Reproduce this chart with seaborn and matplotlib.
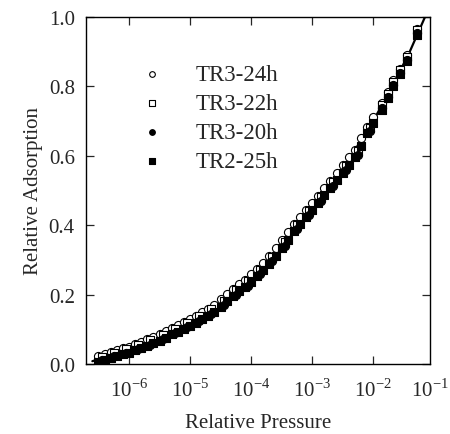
import numpy as np
import pandas as pd
import matplotlib
matplotlib.use("Agg")
import matplotlib.pyplot as plt
import matplotlib.ticker as mticker
import seaborn as sns

# log10 of relative pressure (dense series)
logp_dense = [-6.5, -6.4, -6.3, -6.2, -6.1, -6.0, -5.9, -5.8, -5.7, -5.6,
              -5.5, -5.4, -5.3, -5.2, -5.1, -5.0, -4.9, -4.8, -4.7, -4.6,
              -4.5, -4.4, -4.3, -4.2, -4.1, -4.0, -3.9, -3.8, -3.7, -3.6,
              -3.5, -3.4, -3.3, -3.2, -3.1, -3.0, -2.9, -2.8, -2.7, -2.6,
              -2.5, -2.4, -2.3, -2.2, -2.1, -2.0, -1.85, -1.75, -1.67, -1.56,
              -1.44, -1.28]
# log10 of relative pressure (sparser series)
logp_sparse = [-6.45, -6.25, -6.05, -5.85, -5.65, -5.45, -5.25, -5.05, -4.85, -4.65,
               -4.45, -4.25, -4.05, -3.85, -3.65, -3.45, -3.25, -3.05, -2.85, -2.65,
               -2.45, -2.25, -2.05, -1.85, -1.75, -1.67, -1.56, -1.44, -1.28]

ads_tr3_24h = [0.022, 0.028, 0.034, 0.040, 0.045, 0.050, 0.058, 0.064, 0.071, 0.078,
               0.086, 0.095, 0.104, 0.112, 0.121, 0.130, 0.139, 0.149, 0.159, 0.171,
               0.186, 0.202, 0.217, 0.230, 0.243, 0.258, 0.275, 0.292, 0.311, 0.333,
               0.356, 0.379, 0.403, 0.423, 0.443, 0.464, 0.485, 0.507, 0.528, 0.550,
               0.572, 0.595, 0.617, 0.650, 0.684, 0.712, 0.751, 0.783, 0.817, 0.851,
               0.889, 0.966]
ads_tr3_22h = [0.021, 0.032, 0.044, 0.055, 0.068, 0.084, 0.102, 0.119, 0.137, 0.157,
               0.182, 0.212, 0.239, 0.271, 0.308, 0.352, 0.399, 0.440, 0.481, 0.525,
               0.569, 0.613, 0.681, 0.747, 0.779, 0.813, 0.847, 0.885, 0.962]
ads_tr3_20h = [0.012, 0.022, 0.033, 0.044, 0.056, 0.072, 0.090, 0.107, 0.125, 0.145,
               0.170, 0.200, 0.226, 0.259, 0.297, 0.341, 0.389, 0.429, 0.470, 0.514,
               0.558, 0.603, 0.670, 0.737, 0.769, 0.803, 0.837, 0.875, 0.952]
ads_tr2_25h = [0.006, 0.012, 0.018, 0.023, 0.028, 0.033, 0.041, 0.047, 0.053, 0.059,
               0.066, 0.075, 0.085, 0.093, 0.102, 0.110, 0.119, 0.129, 0.139, 0.150,
               0.165, 0.181, 0.196, 0.209, 0.221, 0.237, 0.254, 0.271, 0.289, 0.311,
               0.334, 0.357, 0.382, 0.402, 0.422, 0.443, 0.464, 0.486, 0.507, 0.529,
               0.551, 0.574, 0.596, 0.629, 0.664, 0.693, 0.733, 0.765, 0.800, 0.834,
               0.872, 0.947]

# fitted curve
logp_fit = [-6.6, -6.3, -6.0, -5.5, -5.0, -4.5, -4.0, -3.5, -3.0, -2.5, -2.0, -1.7, -1.4, -1.15]
ads_fit = [0.008, 0.024, 0.040, 0.075, 0.118, 0.172, 0.245, 0.342, 0.452, 0.560, 0.700, 0.795, 0.900, 1.0]

xtick_exp = [-6, -5, -4, -3, -2, -1]

series = [
    ("TR3-24h", logp_dense, ads_tr3_24h, "o", "white"),
    ("TR3-22h", logp_sparse, ads_tr3_22h, "s", "white"),
    ("TR3-20h", logp_sparse, ads_tr3_20h, "o", "black"),
    ("TR2-25h", logp_dense, ads_tr2_25h, "s", "black"),
]

sns.set_style("ticks")
plt.rcParams["font.family"] = ["Liberation Serif", "DejaVu Serif"]
plt.rcParams["mathtext.fontset"] = "custom"
plt.rcParams["mathtext.rm"] = "Liberation Serif"

fig = plt.figure(figsize=(4.5, 4.35), dpi=100)
ax = fig.add_axes([0.191, 0.161, 0.765, 0.798])

fit_df = pd.DataFrame({"p": 10.0 ** np.array(logp_fit), "a": ads_fit})
sns.lineplot(data=fit_df, x="p", y="a", color="black", linewidth=1.6, ax=ax, sort=True)

for name, lp, ads, mk, fc in series:
    df = pd.DataFrame({"p": 10.0 ** np.array(lp), "a": ads})
    sns.scatterplot(data=df, x="p", y="a", marker=mk, s=34, facecolor=fc,
                    edgecolor="black", linewidth=0.8, ax=ax, label=name, zorder=3)

ax.set_xscale("log")
ax.set_xlim(10 ** -6.705, 10 ** -1.066)
ax.set_ylim(0.0, 1.0)
ax.xaxis.set_major_locator(mticker.FixedLocator([10.0 ** e for e in xtick_exp]))
ax.xaxis.set_minor_locator(mticker.NullLocator())
ax.xaxis.set_major_formatter(mticker.FuncFormatter(
    lambda v, pos: "10$^{\\mathrm{-%d}}$" % int(round(-np.log10(v)))))
ax.set_yticks([0.0, 0.2, 0.4, 0.6, 0.8, 1.0])
ax.yaxis.set_major_formatter(mticker.FormatStrFormatter("%.1f"))
ax.tick_params(direction="in", top=True, right=True, length=6, width=0.9,
               labelsize=15, pad=8)
ax.tick_params(axis="x", pad=10)
for s in ax.spines.values():
    s.set_linewidth(1.0)
    s.set_color("black")

# 10^-1 label sits just past the right edge of the axis
ax.annotate("10$^{\\mathrm{-1}}$", xy=(10.0 ** xtick_exp[-1], 0.0),
            xycoords=("data", "axes fraction"), xytext=(-3, -10),
            textcoords="offset points", fontsize=15, ha="center", va="top",
            annotation_clip=False)

ax.set_xlabel("Relative Pressure", fontsize=15, labelpad=9)
ax.set_ylabel("Relative Adsorption", fontsize=15, labelpad=4)

leg = ax.legend(loc="upper left", bbox_to_anchor=(0.10, 0.925), frameon=False,
                fontsize=16.5, handlelength=1.0, handletextpad=1.4, labelspacing=0.36,
                markerscale=0.7)

fig.savefig("out.png", dpi=100)
